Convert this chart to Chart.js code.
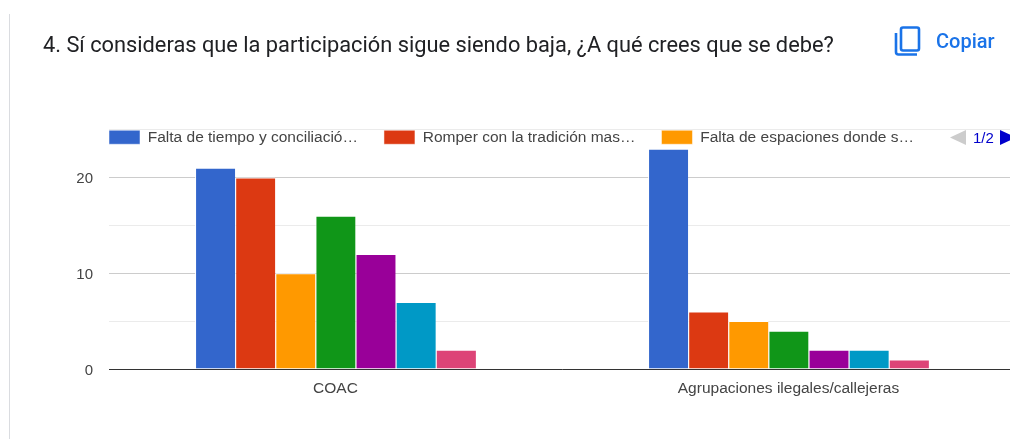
<!DOCTYPE html>
<html>
<head>
<meta charset="utf-8">
<script src="https://cdn.jsdelivr.net/npm/chart.js@4"></script>
<style>
  html, body { margin: 0; padding: 0; background: #fff; overflow: hidden; }
  #page { position: relative; width: 1010px; height: 439px; overflow: hidden; }
  #eventChart { position: absolute; left: 0; top: 0; }
  #side { position: absolute; left: 9px; top: 14px; width: 1px; height: 425px; background: #dadce0; }
  #title { position: absolute; left: 43px; top: 32px; font: 400 21.8px Roboto, sans-serif; color: #202124; white-space: nowrap; }
  #copyIcon { position: absolute; left: 893px; top: 25px; }
  #copyText { position: absolute; left: 936px; top: 29px; font: 500 20px Roboto, sans-serif; color: #1a73e8; white-space: nowrap; }
  #pagePrev, #pageNext { position: absolute; top: 130px; }
  #pagePrev { left: 950px; }
  #pageNext { left: 1000px; }
  #pageNum { position: absolute; left: 973px; top: 129px; font: 15px "Liberation Sans", Arial, sans-serif; color: #0000cc; }
</style>
</head>
<body>
<div id="page">
  <canvas id="eventChart" width="1015" height="439"></canvas>
  <div id="side"></div>
  <div id="title">4. Sí consideras que la participación sigue siendo baja, ¿A qué crees que se debe?</div>
  <svg id="copyIcon" width="30" height="32" viewBox="0 0 30 32" fill="none" stroke="#1a73e8" stroke-width="2.6">
    <rect x="8" y="2.5" width="18" height="23" rx="2"></rect>
    <path d="M3 8 V27 a2.5 2.5 0 0 0 2.5 2.5 H24"></path>
  </svg>
  <div id="copyText">Copiar</div>
  <svg id="pagePrev" width="16" height="15"><polygon points="16,0 16,15 0,7.5" fill="#cccccc"></polygon></svg>
  <div id="pageNum">1/2</div>
  <svg id="pageNext" width="16" height="15"><polygon points="0,0 0,15 16,7.5" fill="#0000cc"></polygon></svg>
</div>
<script>
const categories = ["COAC", "Agrupaciones ilegales/callejeras"];
const seriesNames = [
  "Falta de tiempo y conciliació…",
  "Romper con la tradición mas…",
  "Falta de espaciones donde s…",
  "Serie 4",
  "Serie 5",
  "Serie 6",
  "Serie 7",
];
const seriesColors = ["#3366cc", "#dc3912", "#ff9900", "#109618", "#990099", "#0099c6", "#dd4477"];
const coacValues = [21, 20, 10, 16, 12, 7, 2];
const agrupacionesValues = [23, 6, 5, 4, 2, 2, 1];
const tickLabels = [0, 10, 20];
const legendShown = 3;

const moveLegend = {
  id: "moveLegend",
  afterLayout(chart) {
    // the legend sits over the top of the plot, lined up with the axis start
    const legend = chart.legend;
    legend.left = 109 - 26;
    legend.top = 129.5 - 26;
    legend.right = 1015;
    legend.bottom = 170;
  },
};

const ctx = document.getElementById("eventChart").getContext("2d");
const eventChart = new Chart(ctx, {
  type: "bar",
  plugins: [moveLegend],
  data: {
    labels: categories,
    datasets: seriesNames.map((name, i) => ({
      label: name,
      data: [coacValues[i], agrupacionesValues[i]],
      backgroundColor: seriesColors[i],
      borderColor: "#ffffff",
      borderWidth: { top: 1, left: 1, right: 0, bottom: 0 },
      borderSkipped: false,
    })),
  },
  options: {
    responsive: false,
    animation: false,
    layout: { padding: { top: 78, bottom: 39, left: 0, right: 0 } },
    datasets: { bar: { categoryPercentage: 0.62, barPercentage: 1 } },
    scales: {
      x: {
        afterFit(scale) {
          scale.height = 31;
        },
        grid: { display: false, drawTicks: false },
        border: { display: true, color: "#333333", width: 1 },
        ticks: {
          color: "#444444",
          padding: 10,
          font: { family: "'Liberation Sans', Arial, sans-serif", size: 15.5 },
        },
      },
      y: {
        min: 0,
        max: 25,
        afterFit(scale) {
          scale.width = 109;
        },
        grid: {
          drawTicks: false,
          color: (c) => (tickLabels.includes(c.tick.value) ? "#cccccc" : "#ebebeb"),
        },
        border: { display: false },
        ticks: {
          stepSize: 5,
          color: "#444444",
          padding: 16,
          labelOffset: 1.5,
          font: { family: "'Liberation Sans', Arial, sans-serif", size: 15 },
          callback: (v) => (tickLabels.includes(v) ? v : ""),
        },
      },
    },
    plugins: {
      tooltip: { enabled: false },
      legend: {
        position: "top",
        align: "start",
        maxHeight: 69,
        labels: {
          boxWidth: 31,
          boxHeight: 14,
          padding: 26,
          color: "#444444",
          font: { family: "'Liberation Sans', Arial, sans-serif", size: 15.5 },
          filter: (item) => item.datasetIndex < legendShown,
        },
      },
    },
  },
});
</script>
</body>
</html>
